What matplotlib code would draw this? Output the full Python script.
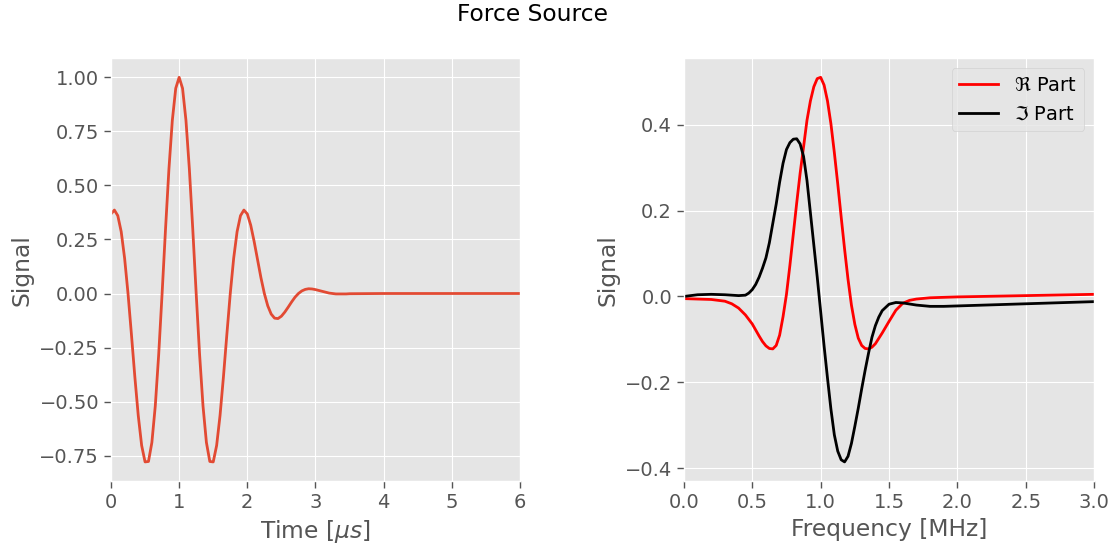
import numpy as np
import matplotlib
matplotlib.use("Agg")
import matplotlib.pyplot as plt

t_us = list(np.round(np.arange(0, 3.501, 0.05), 2)) + [4.0, 5.0, 6.0]
signal = [0.368, 0.386, 0.360, 0.286, 0.163, 0.000, -0.189, -0.385, -0.564, -0.703,
          -0.779, -0.777, -0.689, -0.520, -0.282, 0.000, 0.297, 0.575, 0.801, 0.949,
          1.000, 0.949, 0.801, 0.575, 0.297, 0.000, -0.282, -0.520, -0.689, -0.777,
          -0.779, -0.703, -0.564, -0.385, -0.189, 0.000, 0.163, 0.286, 0.360, 0.386,
          0.368, 0.316, 0.241, 0.157, 0.073, 0.000, -0.057, -0.095, -0.114, -0.116,
          -0.105, -0.086, -0.063, -0.039, -0.017, 0.000, 0.012, 0.019, 0.022, 0.021,
          0.018, 0.014, 0.010, 0.006, 0.002, 0.000, -0.002, -0.002, -0.002, -0.002,
          -0.001, 0.0, 0.0, 0.0]

# spectrum
f_re = [0.0, 0.1, 0.2, 0.3, 0.35, 0.4, 0.45, 0.5, 0.525, 0.55, 0.575, 0.6, 0.625,
        0.65, 0.675, 0.7, 0.725, 0.75, 0.775, 0.8, 0.825, 0.85, 0.875, 0.9, 0.925,
        0.95, 0.975, 1.0, 1.025, 1.05, 1.075, 1.1, 1.125, 1.15, 1.175, 1.2, 1.225,
        1.25, 1.275, 1.3, 1.325, 1.35, 1.375, 1.4, 1.45, 1.5, 1.55, 1.6, 1.65, 1.7,
        1.8, 2.0, 2.5, 3.0]
re_part = [-0.005, -0.006, -0.007, -0.011, -0.017, -0.027, -0.043, -0.064, -0.078,
           -0.092, -0.105, -0.115, -0.121, -0.122, -0.114, -0.090, -0.047, 0.005,
           0.072, 0.145, 0.218, 0.287, 0.348, 0.410, 0.455, 0.488, 0.507, 0.510,
           0.492, 0.455, 0.402, 0.335, 0.262, 0.185, 0.110, 0.040, -0.020, -0.065,
           -0.097, -0.114, -0.121, -0.122, -0.118, -0.110, -0.085, -0.058, -0.032,
           -0.016, -0.009, -0.006, -0.003, -0.001, 0.002, 0.005]

f_im = [0.0, 0.1, 0.2, 0.3, 0.4, 0.45, 0.475, 0.5, 0.525, 0.55, 0.575, 0.6, 0.625,
        0.65, 0.675, 0.7, 0.725, 0.75, 0.775, 0.8, 0.825, 0.85, 0.875, 0.9, 0.925,
        0.95, 0.975, 1.0, 1.025, 1.05, 1.075, 1.1, 1.125, 1.15, 1.175, 1.2, 1.225,
        1.25, 1.275, 1.3, 1.325, 1.35, 1.375, 1.4, 1.425, 1.45, 1.5, 1.55, 1.6, 1.7,
        1.8, 1.9, 2.0, 2.5, 3.0]
im_part = [0.000, 0.004, 0.005, 0.004, 0.002, 0.003, 0.008, 0.016, 0.028, 0.045,
           0.066, 0.090, 0.125, 0.170, 0.215, 0.266, 0.310, 0.342, 0.358, 0.366,
           0.367, 0.355, 0.326, 0.270, 0.195, 0.120, 0.045, -0.035, -0.115, -0.190,
           -0.262, -0.322, -0.360, -0.380, -0.385, -0.372, -0.342, -0.302, -0.260,
           -0.215, -0.172, -0.132, -0.095, -0.068, -0.048, -0.033, -0.018, -0.014,
           -0.015, -0.020, -0.023, -0.023, -0.022, -0.017, -0.012]

plt.style.use("ggplot")
plt.rcParams["font.size"] = 14
fig = plt.figure(figsize=(11.12, 5.48), dpi=100)
ax1 = fig.add_axes([0.0998, 0.122, 0.3678, 0.772])
ax2 = fig.add_axes([0.615, 0.122, 0.369, 0.772])

ax1.plot(t_us, signal, lw=2)
ax1.set_xlim(0, 6)
ax1.set_xlabel(r"Time [$\mu s$]")
ax1.set_ylabel("Signal")

ax2.plot(f_re, re_part, "r", lw=2, label=r"$\Re$ Part")
ax2.plot(f_im, im_part, "k", lw=2, label=r"$\Im$ Part")
ax2.set_xlim(0, 3)
ax2.set_xlabel("Frequency [MHz]")
ax2.set_ylabel("Signal")
ax2.legend(loc="upper right")

for ax in (ax1, ax2):
    ax.tick_params(length=5, width=1, color="#555555")

fig.suptitle("Force Source", x=0.479, y=0.995)
fig.savefig("out.png", dpi=100)
